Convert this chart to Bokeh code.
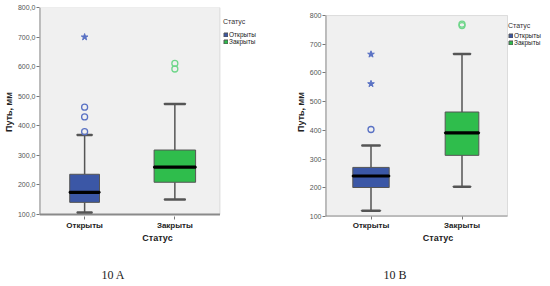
from bokeh.plotting import figure
from bokeh.models import (FixedTicker, Legend, LegendItem, Title, Range1d,
                          BoxAnnotation, LinearAxis)
from bokeh.layouts import row
from bokeh.embed import file_html
from bokeh.resources import INLINE

cats = ["Открыты", "Закрыты"]
legend_title = "Статус"
x_title = "Статус"
y_title = "Путь, мм"
y_ticks = [100, 200, 300, 400, 500, 600, 700, 800]

# Chart 10 A
a_low = [107, 151]
a_q1 = [141, 209]
a_med = [175, 260]
a_q3 = [236, 318]
a_high = [369, 474]
a_circ_cat = ["Открыты", "Открыты", "Открыты", "Закрыты", "Закрыты"]
a_circ_val = [380, 430, 463, 592, 611]
a_star_cat = ["Открыты"]
a_star_val = [700]
a_caption = "10 A"

# Chart 10 B
b_low = [120, 204]
b_q1 = [201, 313]
b_med = [241, 391]
b_q3 = [271, 464]
b_high = [347, 666]
b_circ_cat = ["Открыты", "Закрыты", "Закрыты"]
b_circ_val = [403, 765, 770]
b_star_cat = ["Открыты", "Открыты"]
b_star_val = [562, 665]
b_caption = "10 B"

BLUE = "#3b57a6"
GREEN = "#2fbd4c"
OUT_BLUE = "#5a72c4"
OUT_GREEN = "#6fd68a"
EDGE = "#555555"
SANS = "Liberation Sans"

FIG_W, FIG_H, TOP = 275, 286, 7
FRAME_BOTTOM = 215
PLOT_W = 182
SPACER = 15


def make(low, q1, med, q3, high, circ_cat, circ_val, star_cat, star_val,
         caption, widths, tick_fmt, geom):
    ml, area_top, area_bottom, cap_off, leg_x, leg_y, leg_ts = geom
    n = len(cats)
    pos = {c: i + 0.5 for i, c in enumerate(cats)}
    xs = [pos[c] for c in cats]
    frame_w = FIG_W - ml
    frame_h = FRAME_BOTTOM - TOP
    vpp = (y_ticks[-1] - y_ticks[0]) / (area_bottom - area_top)
    y0 = y_ticks[0] - (FRAME_BOTTOM - area_bottom) * vpp
    y1 = y0 + frame_h * vpp
    p = figure(width=FIG_W, height=FIG_H,
               x_range=Range1d(0, n * frame_w / PLOT_W),
               y_range=Range1d(y0, y1), output_backend="svg",
               toolbar_location=None, tools="",
               min_border_left=ml, min_border_right=0,
               min_border_top=TOP, min_border_bottom=0)
    p.border_fill_color = "white"
    p.background_fill_color = "white"
    p.outline_line_color = None
    p.grid.visible = False

    area = BoxAnnotation(left=0, right=n, bottom=y_ticks[0], top=y_ticks[-1],
                         fill_color="#f0f0f0", fill_alpha=1,
                         line_color="#a0a0a0", line_width=1, level="underlay")
    p.add_layout(area)
    p.segment(x0=[0, 0], y0=[y_ticks[0], y_ticks[0]], x1=[n, 0],
              y1=[y_ticks[0], y_ticks[-1]], line_color="#8a8a8a", line_width=2)

    colors = [BLUE, GREEN]
    p.segment(x0=xs, y0=low, x1=xs, y1=q1, line_color=EDGE, line_width=1.5)
    p.segment(x0=xs, y0=q3, x1=xs, y1=high, line_color=EDGE, line_width=1.5)
    rects = p.vbar(x=xs, width=widths, bottom=q1, top=q3, fill_color=colors,
                   line_color=EDGE, line_width=1)
    p.rect(x=xs, y=med, width=widths, height=1, height_units="screen",
           line_color="black", line_width=2.2, fill_color="black")
    half = [x * 0.5 for x in widths]
    p.rect(x=xs, y=low, width=half, height=1, height_units="screen",
           line_color=EDGE, line_width=1.5)
    p.rect(x=xs, y=high, width=half, height=1, height_units="screen",
           line_color=EDGE, line_width=1.5)
    cc = [OUT_BLUE if c == cats[0] else OUT_GREEN for c in circ_cat]
    p.scatter(x=[pos[c] for c in circ_cat], y=circ_val, marker="circle", size=6,
              fill_color=None, line_color=cc, line_width=1.3)
    sc = [OUT_BLUE if c == cats[0] else OUT_GREEN for c in star_cat]
    p.scatter(x=[pos[c] for c in star_cat], y=star_val, marker="star", size=7,
              fill_color=sc, line_color=sc)

    p.yaxis.ticker = FixedTicker(ticks=y_ticks)
    if tick_fmt:
        p.yaxis.major_label_overrides = {t: f"{t},0" for t in y_ticks}
    else:
        p.yaxis.major_label_overrides = {t: f"{t}" for t in y_ticks}
    p.xaxis.ticker = FixedTicker(ticks=xs)
    p.xaxis.major_label_overrides = {pos[c]: c for c in cats}
    for ax in (p.xaxis[0], p.yaxis[0]):
        ax.axis_line_color = None
        ax.major_tick_line_color = "#777777"
        ax.minor_tick_line_color = None
        ax.major_tick_in = 0
        ax.major_tick_out = 3
        ax.major_label_text_font = SANS
        ax.axis_label_text_font = SANS
        ax.axis_label_text_font_style = "bold"
        ax.axis_label_text_font_size = "9px"
        ax.axis_label_text_color = "#222222"
    p.yaxis.major_label_text_font_size = "7px"
    p.yaxis.major_label_text_color = "#555555"
    p.xaxis.major_label_text_font_size = "8px"
    p.xaxis.major_label_text_font_style = "bold"
    p.xaxis.major_label_text_color = "#222222"
    p.yaxis.axis_label = y_title
    p.xaxis.axis_label = x_title
    p.yaxis.axis_label_standoff = 1
    p.yaxis.major_label_standoff = 1
    p.xaxis.axis_label_standoff = 0
    p.xaxis.major_label_standoff = 1

    leg = Legend(items=[LegendItem(label=cats[0], renderers=[rects], index=0),
                        LegendItem(label=cats[1], renderers=[rects], index=1)],
                 title=legend_title, location=(leg_x, leg_y))
    leg.title_text_font = SANS
    leg.title_text_font_size = "7px"
    leg.title_text_font_style = "normal"
    leg.title_text_color = "#333333"
    leg.label_text_font = SANS
    leg.label_text_font_size = "6.5px"
    leg.label_text_color = "#222222"
    leg.glyph_width = 5
    leg.glyph_height = 5
    leg.label_height = 5
    leg.label_standoff = 1
    leg.spacing = 0
    leg.padding = 2
    leg.margin = 0
    leg.title_standoff = leg_ts
    leg.border_line_color = None
    leg.background_fill_alpha = 0
    p.add_layout(leg)

    # invisible spacer axis between the x axis and the caption
    spacer = LinearAxis(ticker=FixedTicker(ticks=xs[:1]), axis_line_color=None,
                        major_tick_out=SPACER, major_tick_in=0,
                        major_label_standoff=0, minor_tick_line_color=None,
                        major_tick_line_color="white",
                        major_label_text_color=None,
                        major_label_text_font_size="1px")
    p.add_layout(spacer, "below")

    cap = Title(text=caption, align="left", offset=cap_off, standoff=10,
                text_font="Liberation Serif", text_font_size="12px",
                text_font_style="normal", text_color="#222222")
    p.add_layout(cap, "below")
    return p


p1 = make(a_low, a_q1, a_med, a_q3, a_high, a_circ_cat, a_circ_val,
          a_star_cat, a_star_val, a_caption, [0.33, 0.46], True,
          (37, 7, 213, 62, 184, 171, 6))
p2 = make(b_low, b_q1, b_med, b_q3, b_high, b_circ_cat, b_circ_val,
          b_star_cat, b_star_val, b_caption, [0.4, 0.37], False,
          (50, 15, 215, 58, 183, 170, 3))

layout = row(p1, p2)
open("out.html", "w").write(file_html(layout, INLINE))
